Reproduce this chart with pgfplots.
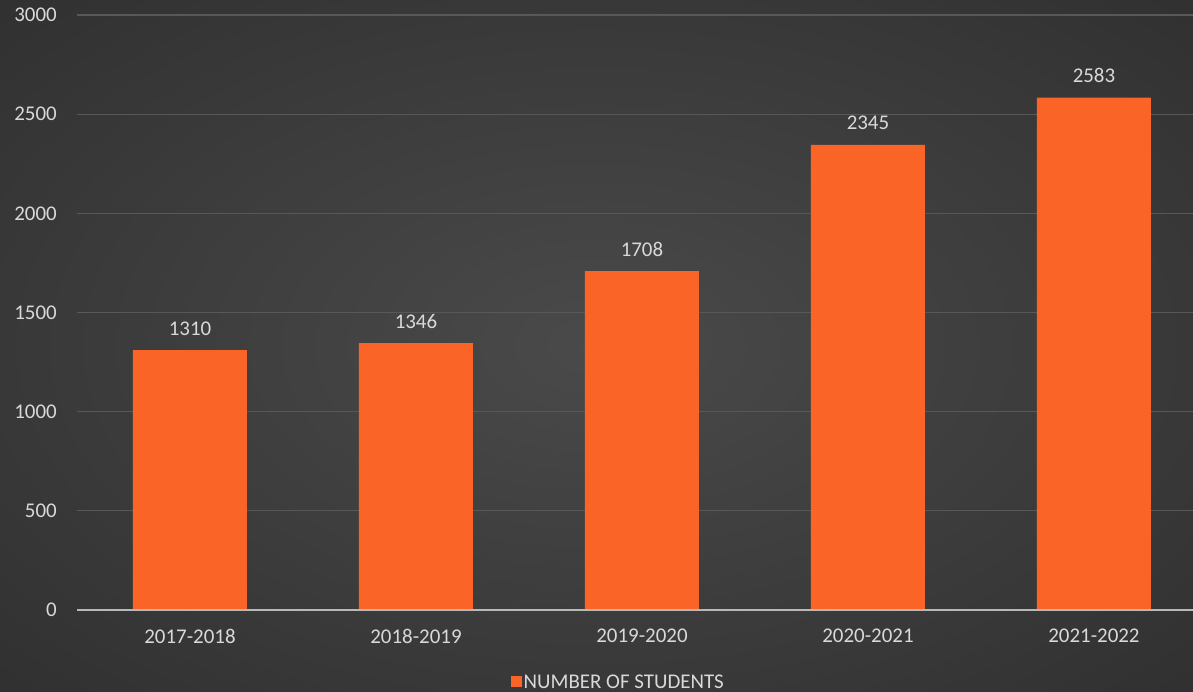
\documentclass[border=0pt]{standalone}
\usepackage{pgfplots}
\pgfplotsset{compat=1.18}
\usepackage{fontspec}
\setmainfont{Carlito}
\definecolor{barorange}{HTML}{FA6426}
\definecolor{txt}{HTML}{D9D9D9}
\definecolor{gridc}{HTML}{585858}
\definecolor{bginner}{HTML}{4A4A4A}
\definecolor{bgouter}{HTML}{262626}
\pgfdeclareradialshading{bgshade}{\pgfpoint{0bp}{0bp}}{color(0bp)=(bginner); color(50bp)=(bgouter)}
\begin{document}
\begin{tikzpicture}
\shade[use as bounding box, shading=bgshade] (-77bp,-82bp) rectangle (1116bp,610bp);
\begin{axis}[
  scale only axis,
  width=1130bp, height=595bp,
  xmin=-0.5, xmax=4.5,
  ymin=0, ymax=3000,
  ytick={0,500,1000,1500,2000,2500,3000},
  xtick=data,
  xticklabels={2017-2018,2018-2019,2019-2020,2020-2021,2021-2022},
  major tick length=0pt,
  axis line style={draw=none},
  ymajorgrids,
  grid style={gridc, line width=1.2bp},
  /pgf/number format/1000 sep={},
  /pgf/number format/assume math mode=true,
  tick label style={font=\fontsize{21}{24}\selectfont, text=txt},
  yticklabel style={anchor=east, inner sep=0pt, xshift=-20bp},
  xticklabel style={anchor=north, inner sep=0pt, yshift=-19bp},
  ybar, bar width=114bp,
  nodes near coords,
  every node near coord/.append style={anchor=base, inner sep=0pt, yshift=15bp, font=\fontsize{21}{24}\selectfont, text=txt},
  legend style={at={(rel axis cs:0.479,-0.121)}, anchor=center, draw=none, fill=none, text=txt, font=\fontsize{21}{24}\selectfont},
  legend image code/.code={\fill[barorange] (0bp,-5.5bp) rectangle (11bp,5.5bp);},
  clip=false,
]
\addplot[fill=barorange, draw=none] coordinates {(0,1310) (1,1346) (2,1708) (3,2345) (4,2583)};
\addlegendentry{NUMBER OF STUDENTS}
\draw[color=txt!85!black, line width=1.5bp] (rel axis cs:0,0) -- (rel axis cs:1,0);
\end{axis}
\end{tikzpicture}
\end{document}
